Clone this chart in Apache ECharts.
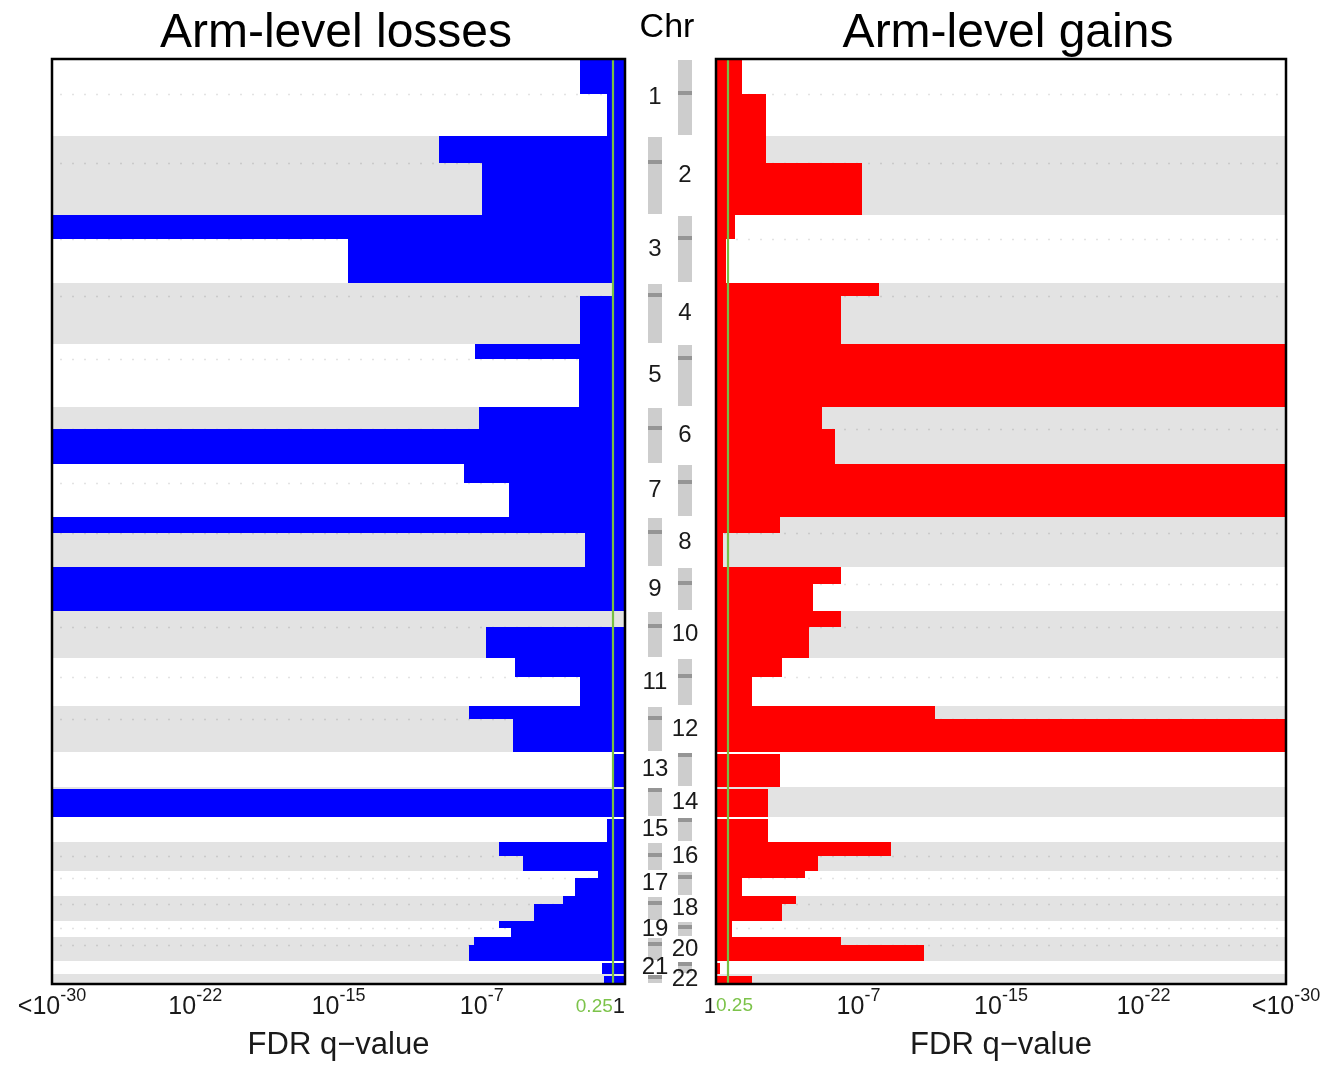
<!DOCTYPE html>
<html>
<head>
<meta charset="utf-8">
<script src="https://cdn.jsdelivr.net/npm/echarts@6/dist/echarts.min.js"></script>
<style>
html,body{margin:0;padding:0;background:#fff;}
#chart{width:1334px;height:1066px;}
</style>
</head>
<body>
<div id="chart"></div>
<script>
// ---------------- data ----------------
const chromosomes = ['1','2','3','4','5','6','7','8','9','10','11','12','13','14','15','16','17','18','19','20','21','22'];
// arm lengths on the plot's genome axis (relative units)
const pArmLength = [35, 27, 24, 13, 15, 22, 19, 16, 17, 16, 19, 13, 2, 2, 2, 14, 7, 8, 7, 8, 2, 2];
const qArmLength = [42, 52, 44, 48, 48, 35, 34, 34, 27, 31, 29, 33, 33, 28, 23, 15, 18, 17, 9, 16, 11, 8];
// significance score (-log10 q on the plot's display scale, 30 = "<1e-30")
const lossP = [2.33, 9.73, 30, 0.7, 7.85, 7.65, 8.45, 30, 30, 0, 5.78, 8.15, 0, 0, 0, 6.62, 1.40, 3.27, 6.62, 7.89, 0, 0];
const lossQ = [0.92, 7.48, 14.49, 2.33, 2.41, 30, 6.08, 2.07, 30, 7.28, 2.33, 5.88, 0.7, 30, 0.92, 5.34, 2.61, 4.78, 5.98, 8.15, 1.2, 1.12];
const gainP = [1.37, 2.62, 1.0, 8.56, 30, 5.58, 30, 3.36, 6.58, 6.58, 3.46, 11.5, 0, 0, 0, 9.2, 4.69, 4.23, 0.85, 6.58, 0, 0];
const gainQ = [2.62, 7.71, 0.55, 6.6, 30, 6.24, 30, 0.35, 5.09, 4.89, 1.87, 30, 3.36, 2.72, 2.72, 5.38, 1.37, 3.48, 0.85, 10.97, 0.2, 1.87];
const tickValues = [7.5, 15, 22.5, 30];
const tickExponents = ['-7', '-15', '-22', '-30'];
const thresholdLabel = '0.25';
const thresholdScore = 0.64;
const scoreMax = 30;

// ---------------- derived tables ----------------
const chromTable = [];
let cursor = 0;
chromosomes.forEach((c, i) => {
  const s = cursor, cen = s + pArmLength[i], e = cen + qArmLength[i];
  chromTable.push([s, e, cen, i]);
  cursor = e;
});
const genomeTotal = cursor;
function armData(pVals, qVals) {
  const out = [];
  chromTable.forEach((c, i) => {
    out.push([c[0], c[2], pVals[i]]);
    out.push([c[2], c[1], qVals[i]]);
  });
  return out;
}
const lossData = armData(lossP, lossQ);
const gainData = armData(gainP, gainQ);

// ---------------- styling ----------------
const FONT = '"Liberation Sans", Arial, Helvetica, sans-serif';
const BLUE = '#0000ff', RED = '#ff0000', BAND = '#e3e3e3', GREEN = '#77c043', GREEN_TXT = '#7cc34a';
const TXT = '#1a1a1a';

function bandItem(params, api) {
  const s = api.value(0), e = api.value(1), cen = api.value(2), idx = api.value(3);
  const a = api.coord([0, s]), b = api.coord([scoreMax, e]);
  const x = Math.round(Math.min(a[0], b[0])), w = Math.round(Math.abs(b[0] - a[0]));
  const y0 = Math.round(a[1]), y1 = Math.round(b[1]);
  const children = [];
  if (idx % 2 === 1) {
    children.push({type: 'rect', shape: {x: x, y: y0, width: w, height: y1 - y0}, style: {fill: BAND}});
  }
  if (cen - s > 3) {
    const cy = Math.round(api.coord([0, cen])[1]) + 0.5;
    children.push({type: 'line', shape: {x1: x + 8, y1: cy, x2: x + w - 8, y2: cy},
      style: {stroke: 'rgba(0,0,0,0.11)', lineWidth: 1.5, lineDash: [2, 10]}});
  }
  return {type: 'group', children: children};
}
function barItem(color) {
  return function (params, api) {
    const v = api.value(2);
    if (!(v > 0)) return null;
    const a = api.coord([0, api.value(0)]), b = api.coord([v, api.value(1)]);
    const x0 = Math.round(Math.min(a[0], b[0])), x1 = Math.round(Math.max(a[0], b[0]));
    const y0 = Math.round(a[1]), y1 = Math.round(b[1]);
    return {type: 'rect', shape: {x: x0, y: y0, width: x1 - x0, height: y1 - y0}, style: {fill: color}};
  };
}
function thresholdItem(params, api) {
  const v = api.value(0);
  const a = api.coord([v, 0]), b = api.coord([v, genomeTotal]);
  const x = Math.round(a[0]);
  return {type: 'line', shape: {x1: x, y1: a[1], x2: x, y2: b[1]}, style: {stroke: GREEN, lineWidth: 2.2}};
}
function frameItem(params, api) {
  const a = api.coord([0, 0]), b = api.coord([scoreMax, genomeTotal]);
  const x = Math.round(Math.min(a[0], b[0])), w = Math.round(Math.abs(b[0] - a[0]));
  return {type: 'rect', shape: {x: x, y: Math.round(a[1]), width: w, height: Math.round(b[1] - a[1])},
    style: {fill: 'none', stroke: '#000', lineWidth: 2.5}};
}
function ideogramItem(params, api) {
  const s = api.value(0), e = api.value(1), cen = api.value(2), idx = api.value(3);
  const num = idx + 1;
  const ideoCol = (num % 2 === 0) ? 0.5 : 1.5;
  const labCol = (num % 2 === 0) ? 1.5 : 0.5;
  const a = api.coord([ideoCol, s]), b = api.coord([ideoCol, e]);
  const w = 14;
  const x = Math.round(a[0] - w / 2);
  const y0 = Math.round(a[1]) + 1, y1 = Math.round(b[1]) - 1;
  const cy = api.coord([ideoCol, cen])[1];
  let my = Math.round(cy) - 3;
  if (my < y0) my = y0;
  const lab = api.coord([labCol, (s + e) / 2]);
  return {type: 'group', children: [
    {type: 'rect', shape: {x: x, y: y0, width: w, height: y1 - y0}, style: {fill: '#cdcdcd'}},
    {type: 'rect', shape: {x: x, y: my, width: w, height: 4}, style: {fill: '#959595'}},
    {type: 'text', x: lab[0], y: lab[1], style: {text: chromosomes[idx], fill: TXT,
      font: '24px ' + FONT, align: 'center', verticalAlign: 'middle'}}
  ]};
}

const richTick = {
  b: {fontSize: 25, fontFamily: FONT, color: TXT, lineHeight: 28},
  s: {fontSize: 18, fontFamily: FONT, color: TXT, padding: [0, 0, 22, 0]},
  g: {fontSize: 19, fontFamily: FONT, color: GREEN_TXT},
  k: {fontSize: 22, fontFamily: FONT, color: TXT}
};
function tickFormatter(v) {
  const i = tickValues.indexOf(v);
  if (i < 0) return '';
  const pre = (i === tickValues.length - 1) ? '<' : '';
  return '{b|' + pre + '10}{s|' + tickExponents[i] + '}';
}
function mainXAxis(gridIndex, inverse, withName) {
  return {
    type: 'value', gridIndex: gridIndex, min: 0, max: scoreMax, interval: 7.5, inverse: inverse,
    position: 'bottom',
    axisLine: {show: false}, axisTick: {show: false}, splitLine: {show: false},
    axisLabel: {formatter: tickFormatter, rich: richTick, margin: 3, showMinLabel: true, showMaxLabel: true},
    name: withName ? 'FDR q\u2212value' : '', nameLocation: 'middle', nameGap: 46,
    nameTextStyle: {fontSize: 31, fontFamily: FONT, color: TXT}
  };
}
function zeroAxis(gridIndex, inverse, text, align) {
  return {
    type: 'value', gridIndex: gridIndex, min: 0, max: scoreMax, interval: scoreMax, inverse: inverse,
    position: 'bottom',
    axisLine: {show: false}, axisTick: {show: false}, splitLine: {show: false},
    axisLabel: {formatter: function (v) { return v === 0 ? text : ''; }, rich: richTick, align: align,
      margin: 12, showMinLabel: true, showMaxLabel: true}
  };
}
function yAx(gridIndex) {
  return {type: 'value', gridIndex: gridIndex, min: 0, max: genomeTotal, inverse: true, show: false};
}

const option = {
  animation: false,
  backgroundColor: '#fff',
  grid: [
    {left: 52, top: 59, width: 573, height: 925},
    {left: 640, top: 59, width: 60, height: 925},
    {left: 716, top: 59, width: 570, height: 925}
  ],
  xAxis: [
    mainXAxis(0, true, true),
    zeroAxis(0, true, '{g|' + thresholdLabel + '}{k|1}', 'right'),
    {type: 'value', gridIndex: 1, min: 0, max: 2, show: false},
    mainXAxis(2, false, true),
    zeroAxis(2, false, '{k|1}', 'right'),
    zeroAxis(2, false, '{g|' + thresholdLabel + '}', 'left')
  ],
  yAxis: [yAx(0), yAx(1), yAx(2)],
  graphic: [
    {type: 'text', x: 336, y: 34, style: {text: 'Arm-level losses', font: '48px ' + FONT, fill: '#000', align: 'center', verticalAlign: 'middle'}},
    {type: 'text', x: 1008, y: 34, style: {text: 'Arm-level gains', font: '48px ' + FONT, fill: '#000', align: 'center', verticalAlign: 'middle'}},
    {type: 'text', x: 667, y: 28, style: {text: 'Chr', font: '34px ' + FONT, fill: '#000', align: 'center', verticalAlign: 'middle'}}
  ],
  series: [
    {type: 'custom', xAxisIndex: 0, yAxisIndex: 0, z: 1, silent: true, renderItem: bandItem, data: chromTable, encode: {x: -1, y: [0, 1]}},
    {type: 'custom', xAxisIndex: 0, yAxisIndex: 0, z: 2, silent: true, renderItem: barItem(BLUE), data: lossData, encode: {x: 2, y: [0, 1]}},
    {type: 'custom', xAxisIndex: 0, yAxisIndex: 0, z: 3, silent: true, renderItem: thresholdItem, data: [[thresholdScore]], encode: {x: 0}},
    {type: 'custom', xAxisIndex: 0, yAxisIndex: 0, z: 4, silent: true, renderItem: frameItem, data: [[0]], encode: {x: 0}},

    {type: 'custom', xAxisIndex: 2, yAxisIndex: 1, z: 2, silent: true, renderItem: ideogramItem, data: chromTable, encode: {y: [0, 1]}},

    {type: 'custom', xAxisIndex: 3, yAxisIndex: 2, z: 1, silent: true, renderItem: bandItem, data: chromTable, encode: {x: -1, y: [0, 1]}},
    {type: 'custom', xAxisIndex: 3, yAxisIndex: 2, z: 2, silent: true, renderItem: barItem(RED), data: gainData, encode: {x: 2, y: [0, 1]}},
    {type: 'custom', xAxisIndex: 3, yAxisIndex: 2, z: 3, silent: true, renderItem: thresholdItem, data: [[thresholdScore]], encode: {x: 0}},
    {type: 'custom', xAxisIndex: 3, yAxisIndex: 2, z: 4, silent: true, renderItem: frameItem, data: [[0]], encode: {x: 0}}
  ]
};
const chart = echarts.init(document.getElementById('chart'), null, {renderer: 'canvas'});
chart.setOption(option);
</script>
</body>
</html>
